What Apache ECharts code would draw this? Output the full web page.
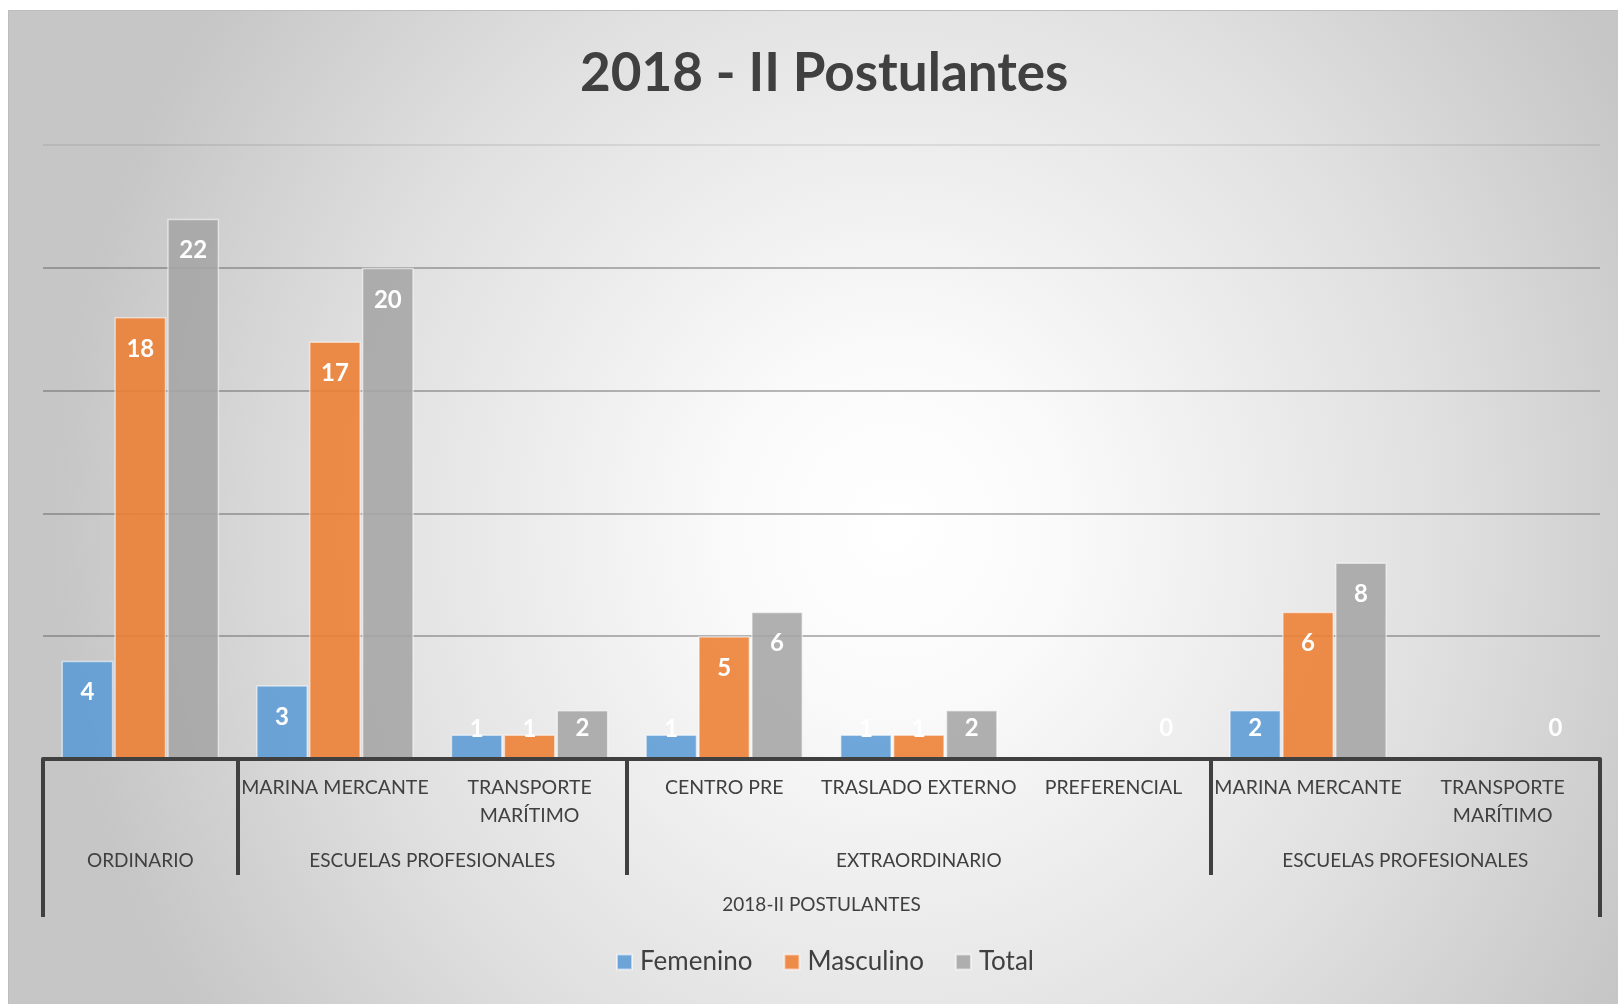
<!DOCTYPE html>
<html>
<head>
<meta charset="utf-8">
<script src="https://cdn.jsdelivr.net/npm/echarts@6/dist/echarts.min.js"></script>
<style>
html, body { margin: 0; padding: 0; background: #fff; }
#bg {
    position: absolute; left: 8px; top: 10px; width: 1610px; height: 994px;
    border-top: 1px solid #bdbdbd; border-left: 1px solid #bdbdbd;
    background: radial-gradient(ellipse 52% 90% at 55% 52%, #ffffff 0%, #fafafa 20%, #e0e0e0 65%, #c6c6c6 100%);
}
#main { position: absolute; left: 0; top: 0; width: 1618px; height: 1004px; }
</style>
</head>
<body>
<div id="bg"></div>
<div id="main"></div>
<script>
var dom = document.getElementById('main')
var chart = echarts.init(dom)

// sub categories (first level under the bars)
var categories = ['', 'MARINA MERCANTE', 'TRANSPORTE\nMARÍTIMO', 'CENTRO PRE', 'TRASLADO EXTERNO', 'PREFERENCIAL', 'MARINA MERCANTE', 'TRANSPORTE\nMARÍTIMO'];
// second level groups and how many sub categories each one spans
var groups = ['ORDINARIO', 'ESCUELAS PROFESIONALES', 'EXTRAORDINARIO', 'ESCUELAS PROFESIONALES'];
var groupSizes = [1, 2, 3, 2];
var topLabel = '2018-II POSTULANTES';

var femenino = [4, 3, 1, 1, 1, 0, 2, 0];
var masculino = [18, 17, 1, 5, 1, 0, 6, 0];
var total = [22, 20, 2, 6, 2, 0, 8, 0];

var font = 'Lato';
var ink = '#404040';

// group boundaries and centers, in category units
var bounds = [0];
groupSizes.forEach(function (s) { bounds.push(bounds[bounds.length - 1] + s) });
var inner = bounds.slice(1, -1);
var centers = groups.map(function (g, i) { return (bounds[i] + bounds[i + 1]) / 2 });
var nCat = categories.length;

function item(v, showZero) {
    var label = null;
    if (v === 0) label = showZero ? { position: 'top', distance: 18 } : { show: false };
    else if (v === 1) label = { position: 'top', distance: -7 };
    else if (v === 2) label = { position: 'insideTop', distance: 6 };
    return label ? { value: v, label: label } : v;
}

function bar(name, values, color, showZero) {
    return {
        name: name,
        type: 'bar',
        barGap: '2%',
        barCategoryGap: '19%',
        itemStyle: { color: color, borderColor: 'rgba(255,255,255,0.55)', borderWidth: 1.5 },
        label: {
            show: true, position: 'insideTop', distance: 20,
            color: '#fff', fontFamily: font, fontWeight: 'bold', fontSize: 24
        },
        data: values.map(function (v) { return item(v, showZero) })
    };
}

var options = {
    animation: false,
    title: {
        text: '2018 - II Postulantes',
        left: 580,
        top: 47,
        padding: 0,
        textStyle: { fontFamily: font, fontWeight: 'bold', fontSize: 53, color: ink }
    },
    legend: {
        left: 611,
        top: 944,
        icon: 'rect',
        itemWidth: 15,
        itemHeight: 15,
        itemGap: 31,
        textStyle: { fontFamily: font, fontSize: 26, color: ink, padding: [0, 0, 0, 3] },
        data: ['Femenino', 'Masculino', 'Total']
    },
    grid: { left: 43, right: 18, top: 145, bottom: 245, containLabel: false, outerBoundsMode: 'none' },
    xAxis: [{
        type: 'category',
        data: categories,
        position: 'bottom',
        axisLine: { show: true, lineStyle: { color: ink, width: 4 } },
        axisTick: { show: false },
        axisLabel: { interval: 0, margin: 15, color: ink, fontFamily: font, fontSize: 19.5, lineHeight: 28 },
        z: 5
    }, {
        type: 'value',
        min: 0,
        max: nCat,
        position: 'bottom',
        offset: 0,
        axisLine: { show: false },
        splitLine: { show: false },
        axisTick: { show: true, customValues: inner, length: 116, lineStyle: { color: ink, width: 4 } },
        axisLabel: {
            customValues: centers,
            margin: 88,
            color: ink, fontFamily: font, fontSize: 19, lineHeight: 28,
            formatter: function (v) {
                var i = centers.findIndex(function (c) { return Math.abs(c - v) < 1e-6 });
                return i >= 0 ? groups[i] : '';
            }
        }
    }, {
        type: 'value',
        min: 0,
        max: nCat,
        position: 'bottom',
        offset: 0,
        axisLine: { show: false },
        splitLine: { show: false },
        axisTick: { show: true, customValues: [0, nCat], length: 158, lineStyle: { color: ink, width: 4 } },
        axisLabel: {
            customValues: [nCat / 2],
            margin: 132,
            color: ink, fontFamily: font, fontSize: 19, lineHeight: 28,
            formatter: function () { return topLabel }
        }
    }],
    yAxis: {
        type: 'value',
        min: 0,
        max: 25,
        interval: 5,
        axisLine: { show: false },
        axisTick: { show: false },
        axisLabel: { show: false },
        splitLine: {
            lineStyle: {
                color: ['rgba(80,80,80,0.4)', 'rgba(80,80,80,0.4)', 'rgba(80,80,80,0.4)', 'rgba(80,80,80,0.4)', 'rgba(80,80,80,0.4)', 'rgba(80,80,80,0.12)'],
                width: 2
            }
        }
    },
    series: [
        bar('Femenino', femenino, 'rgba(91,155,213,0.88)', false),
        bar('Masculino', masculino, 'rgba(237,125,49,0.88)', false),
        bar('Total', total, 'rgba(165,165,165,0.88)', true)
    ]
}

chart.setOption(options)
</script>
</body>
</html>
